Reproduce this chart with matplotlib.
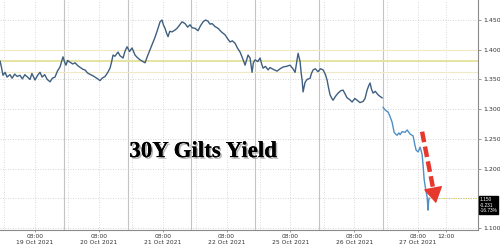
import numpy as np
import matplotlib.pyplot as plt
import matplotlib.patheffects as pe

# time axis in trading-day units (0 = start of 19 Oct session), yield in %
x_vals = [0.000, 0.020, 0.047, 0.080, 0.110, 0.157, 0.190, 0.230, 0.270, 0.313,
          0.350, 0.390, 0.430, 0.470, 0.500, 0.549, 0.590, 0.627, 0.660, 0.700,
          0.740, 0.784, 0.820, 0.862, 0.900, 0.940, 0.987, 1.010, 1.034, 1.060,
          1.097, 1.140, 1.176, 1.220, 1.260, 1.300, 1.332, 1.370, 1.420, 1.460,
          1.489, 1.530, 1.567, 1.600, 1.646, 1.690, 1.724, 1.750, 1.771, 1.800,
          1.850, 1.880, 1.928, 1.960, 1.991, 2.030, 2.069, 2.100, 2.116, 2.150,
          2.194, 2.240, 2.273, 2.310, 2.351, 2.390, 2.429, 2.470, 2.508, 2.539,
          2.560, 2.586, 2.610, 2.633, 2.660, 2.696, 2.740, 2.774, 2.810, 2.853,
          2.900, 2.940, 2.978, 3.010, 3.056, 3.103, 3.140, 3.182, 3.220, 3.260,
          3.290, 3.323, 3.370, 3.417, 3.470, 3.527, 3.570, 3.605, 3.640, 3.683,
          3.720, 3.762, 3.800, 3.840, 3.870, 3.887, 3.918, 3.950, 3.970, 3.997,
          4.040, 4.075, 4.100, 4.122, 4.160, 4.201, 4.230, 4.263, 4.300, 4.342,
          4.390, 4.436, 4.490, 4.545, 4.590, 4.624, 4.650, 4.671, 4.690, 4.702,
          4.720, 4.734, 4.749, 4.780, 4.812, 4.859, 4.880, 4.906, 4.940, 4.984,
          5.020, 5.063, 5.100, 5.125, 5.150, 5.172, 5.200, 5.219, 5.260, 5.298,
          5.340, 5.376, 5.410, 5.439, 5.480, 5.517, 5.560, 5.596, 5.640, 5.690,
          5.720, 5.752, 5.780, 5.799, 5.820, 5.846, 5.880, 5.925, 5.960, 5.987]
y_vals = [1.381, 1.372, 1.357, 1.362, 1.354, 1.358, 1.352, 1.359, 1.355, 1.357,
          1.351, 1.358, 1.354, 1.350, 1.360, 1.349, 1.357, 1.362, 1.354, 1.358,
          1.350, 1.346, 1.352, 1.354, 1.364, 1.371, 1.388, 1.380, 1.374, 1.382,
          1.379, 1.376, 1.378, 1.373, 1.370, 1.367, 1.366, 1.361, 1.358, 1.356,
          1.354, 1.351, 1.348, 1.352, 1.355, 1.362, 1.369, 1.380, 1.391, 1.389,
          1.396, 1.390, 1.386, 1.398, 1.405, 1.397, 1.403, 1.395, 1.391, 1.387,
          1.383, 1.380, 1.378, 1.389, 1.400, 1.410, 1.421, 1.434, 1.447, 1.450,
          1.442, 1.436, 1.428, 1.422, 1.431, 1.430, 1.433, 1.436, 1.441, 1.447,
          1.444, 1.438, 1.442, 1.437, 1.436, 1.432, 1.440, 1.447, 1.450, 1.448,
          1.443, 1.444, 1.439, 1.436, 1.430, 1.425, 1.418, 1.413, 1.415, 1.411,
          1.403, 1.396, 1.386, 1.374, 1.385, 1.391, 1.386, 1.362, 1.378, 1.383,
          1.380, 1.386, 1.376, 1.369, 1.372, 1.366, 1.370, 1.368, 1.366, 1.364,
          1.368, 1.371, 1.372, 1.374, 1.368, 1.362, 1.380, 1.394, 1.385, 1.380,
          1.360, 1.349, 1.329, 1.345, 1.350, 1.352, 1.360, 1.366, 1.368, 1.363,
          1.368, 1.366, 1.358, 1.349, 1.335, 1.324, 1.318, 1.315, 1.322, 1.327,
          1.331, 1.332, 1.325, 1.319, 1.316, 1.312, 1.318, 1.315, 1.311, 1.313,
          1.318, 1.332, 1.340, 1.344, 1.334, 1.327, 1.330, 1.324, 1.321, 1.319]

# 27 Oct session
x_last = [6.003, 6.040, 6.082, 6.110, 6.144, 6.176, 6.200, 6.223, 6.250, 6.270,
          6.300, 6.348, 6.380, 6.426, 6.473, 6.500, 6.520, 6.552, 6.583, 6.614,
          6.630, 6.646, 6.670, 6.693, 6.708, 6.716, 6.724]
y_last = [1.303, 1.298, 1.295, 1.288, 1.278, 1.261, 1.258, 1.256, 1.260, 1.257,
          1.262, 1.261, 1.265, 1.258, 1.255, 1.240, 1.231, 1.228, 1.236, 1.224,
          1.205, 1.182, 1.165, 1.152, 1.130, 1.145, 1.150]

day_labels = ['19 Oct 2021', '20 Oct 2021', '21 Oct 2021', '22 Oct 2021',
              '25 Oct 2021', '26 Oct 2021', '27 Oct 2021']
y_ticks = [1.10, 1.15, 1.20, 1.25, 1.30, 1.35, 1.40, 1.45]
last_value = 1.150
tag_text = '1.150\n-0.231\n-16.73%'
bands = [1.400, 1.381, 1.363]

fig = plt.figure(figsize=(5, 2.44), dpi=100)
ax = fig.add_axes([0.0, 0.057, 0.956, 0.943])

ax.set_xlim(0, 7.49)
ax.set_ylim(1.0964, 1.4837)

# grid
for yt in y_ticks:
    ax.axhline(yt, color='#c8c8c8', lw=0.6, ls=(0, (1, 2)), zorder=0)
for d in range(7):
    if d > 0:
        ax.axvline(d, color='#c4c4c4', lw=0.8, zorder=0)
    ax.axvline(d + 0.07, color='#cfcfcf', lw=0.6, ls=(0, (1, 2)), zorder=0)
    ax.axvline(d + 0.55, color='#cfcfcf', lw=0.6, ls=(0, (1, 2)), zorder=0)
ax.axvline(6.99, color='#cfcfcf', lw=0.6, ls=(0, (1, 2)), zorder=0)

# yellow reference band
ax.axhline(bands[0], color='#efe9c6', lw=0.8, zorder=1)
ax.axhline(bands[1], color='#e4e29a', lw=1.3, zorder=1)
ax.axhline(bands[2], color='#efe9c6', lw=0.8, zorder=1)

# series
ax.plot(x_vals, y_vals, color='#3f5f80', lw=1.0, zorder=3)
ax.plot(x_last, y_last, color='#4f8fc6', lw=1.0, zorder=3)

# last value guide
ax.plot([x_last[-1], 7.49], [last_value, last_value], color='#cdbf3c',
        lw=0.7, ls=(0, (1, 1.5)), zorder=2)

# red dashed arrow
ax.plot([6.614, 6.795], [1.262, 1.162], color='#e8382e', lw=3.2,
        ls=(0, (2.4, 1.0)), solid_capstyle='butt', zorder=4)
ax.annotate('', xy=(6.84, 1.137), xytext=(6.795, 1.162),
            arrowprops=dict(arrowstyle='-|>,head_width=0.6,head_length=1.0',
                            color='#e8382e', lw=1), zorder=4)

# title
ax.text(3.18, 1.2193, '30Y Gilts Yield', fontsize=16.5, fontweight='bold',
        family='Liberation Serif', color='black', ha='center', va='baseline',
        path_effects=[pe.withSimplePatchShadow(offset=(1.2, -1.2),
                                               shadow_rgbFace='#888888', alpha=0.6),
                      pe.Normal()])

# axes styling
for s in ['top', 'left']:
    ax.spines[s].set_visible(False)
ax.spines['right'].set_color('#8a8a8a')
ax.spines['bottom'].set_color('#8a8a8a')
ax.spines['right'].set_linewidth(0.8)
ax.spines['bottom'].set_linewidth(0.8)

ax.yaxis.tick_right()
ax.set_yticks(y_ticks)
ax.set_yticklabels(['' if abs(v - last_value) < 1e-9 else '%.3f' % v for v in y_ticks])
ax.tick_params(axis='y', labelsize=4.5, length=2, width=0.6, pad=1.5,
               colors='#8a8a8a', labelcolor='#333333')

xt = [d + 0.55 for d in range(7)] + [6.99]
xl = ['08:00\n' + lab for lab in day_labels] + ['12:00']
ax.set_xticks(xt)
ax.set_xticklabels(xl, linespacing=1.15)
ax.tick_params(axis='x', labelsize=4.3, length=1.5, width=0.6, pad=1.5,
               colors='#8a8a8a', labelcolor='#333333')

# last value tag
ax.text(1.003, 1.1385, tag_text, transform=ax.get_yaxis_transform(),
        fontsize=3.4, family='Liberation Sans', color='white', ha='left',
        va='center', linespacing=1.2,
        bbox=dict(boxstyle='square,pad=0.15', fc='black', ec='black'),
        clip_on=False, zorder=6)

fig.savefig('out.png', dpi=100)
